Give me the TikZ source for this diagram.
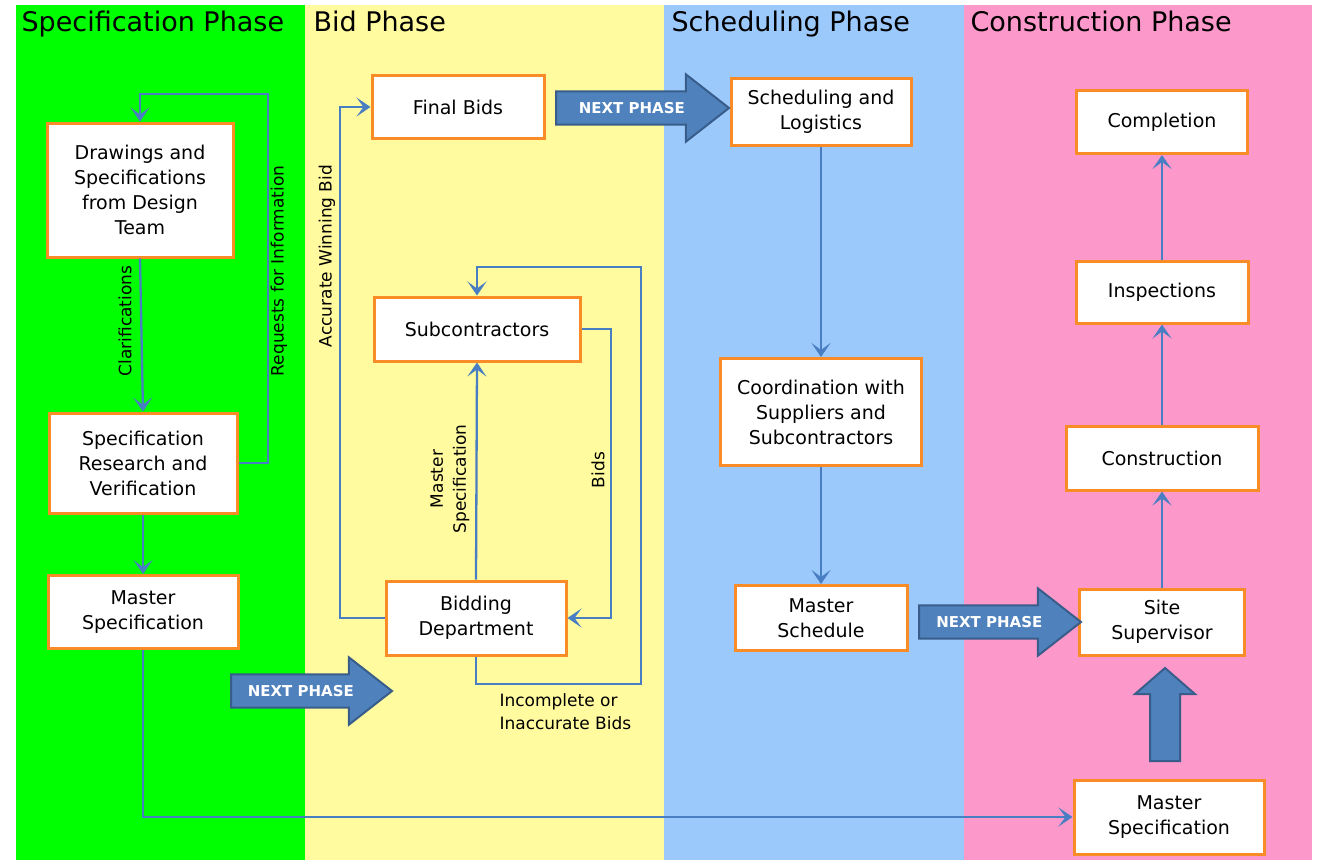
\documentclass[tikz,border=0pt]{standalone}
\usepackage{fontspec}
\setmainfont{DejaVu Sans}
\usetikzlibrary{arrows.meta,shapes.arrows}

\definecolor{specgreen}{RGB}{0,255,0}
\definecolor{bidyellow}{RGB}{255,251,158}
\definecolor{schedblue}{RGB}{156,201,252}
\definecolor{buildpink}{RGB}{253,152,203}
\definecolor{boxorange}{RGB}{250,140,40}
\definecolor{lineblue}{RGB}{74,126,194}
\definecolor{arrowblue}{RGB}{79,129,189}
\definecolor{arrowedge}{RGB}{56,93,138}

\begin{document}
\begin{tikzpicture}[x=1pt,y=-1pt,
  box/.style={draw=boxorange, line width=3pt, fill=white, align=center,
    inner sep=0pt, font=\fontsize{19}{25}\selectfont},
  flow/.style={draw=lineblue, line width=2.3pt,
    -{Stealth[length=14pt,width=19pt,inset=7pt]}},
  tag/.style={font=\fontsize{17}{23}\selectfont},
  title/.style={anchor=base west, font=\fontsize{27}{32}\selectfont},
  nextphase/.style={single arrow, draw=arrowedge, fill=arrowblue,
    line width=2pt, text=white, inner xsep=0pt, inner ysep=10pt,
    font=\bfseries\fontsize{15}{18}\selectfont,
    single arrow head extend=17pt, single arrow tip angle=76}]

  % Page and phase columns
  \useasboundingbox (0,0) rectangle (1317,860);
  \fill[specgreen] (16,5) rectangle (305,860);
  \fill[bidyellow] (305,5) rectangle (664,860);
  \fill[schedblue] (664,5) rectangle (964,860);
  \fill[buildpink] (964,5) rectangle (1312,860);

  % Phase titles
  \node[title] (tspec)  at (18,31)  {Specification Phase};
  \node[title] (tbid)   at (310,31) {Bid Phase};
  \node[title] (tsched) at (668,31) {Scheduling Phase};
  \node[title] (tbuild) at (967,31) {Construction Phase};

  % Specification phase
  \node[box, minimum width=186, minimum height=134] (drawings) at (140,190)
    {Drawings and\\Specifications\\from Design\\Team};
  \node[box, minimum width=188, minimum height=100] (research) at (143,463)
    {Specification\\Research and\\Verification};
  \node[box, minimum width=190, minimum height=73] (masterA) at (143,612)
    {Master\\Specification};

  % Bid phase
  \node[box, minimum width=172, minimum height=63] (final) at (458,107) {Final Bids};
  \node[box, minimum width=206, minimum height=64] (sub) at (477,329) {Subcontractors};
  \node[box, minimum width=180, minimum height=74] (bidding) at (476,618)
    {Bidding\\Department};

  % Scheduling phase
  \node[box, minimum width=180, minimum height=67] (sched) at (821,112)
    {Scheduling and\\Logistics};
  \node[box, minimum width=201, minimum height=107] (coord) at (821,412)
    {Coordination with\\Suppliers and\\Subcontractors};
  \node[box, minimum width=172, minimum height=65] (mschedule) at (821,618)
    {Master\\Schedule};

  % Construction phase
  \node[box, minimum width=171, minimum height=63] (completion) at (1162,122) {Completion};
  \node[box, minimum width=172, minimum height=62] (inspect) at (1162,292) {Inspections};
  \node[box, minimum width=192, minimum height=64] (construct) at (1162,458) {Construction};
  \node[box, minimum width=165, minimum height=66] (site) at (1162,622)
    {Site\\Supervisor};
  \node[box, minimum width=190, minimum height=74] (masterB) at (1169,817)
    {Master\\Specification};

  % Specification flow
  \draw[flow] (drawings.south) -- (research.north);
  \draw[flow] (research.east) -| (268,94) -| (drawings.north);
  \draw[flow] (research.south) -- (masterA.north);
  \draw[flow] (masterA.south) |- (masterB.west);
  \node[tag, rotate=90] (lclar) at (125,321) {Clarifications};
  \node[tag, rotate=90] (lrfi)  at (279,271) {Requests for Information};

  % Bid flow
  \draw[flow] (bidding.west) -| (340,107) -- (final.west);
  \draw[flow] (bidding.north) -- (sub.south);
  \draw[flow] (sub.east) -| (611,618) -- (bidding.east);
  \draw[flow] (bidding.south) |- (641,684) |- (477,267) -- (sub.north);
  \node[tag, rotate=90] (lwin) at (327,256) {Accurate Winning Bid};
  \node[tag, rotate=90, align=center] (lmspec) at (450,479) {Master\\Specification};
  \node[tag, rotate=90] (lbids) at (598,470) {Bids};
  \node[tag, anchor=north west, align=left] (lredo) at (496,690)
    {Incomplete or\\Inaccurate Bids};

  % Scheduling flow
  \draw[flow] (sched.south) -- (coord.north);
  \draw[flow] (coord.south) -- (mschedule.north);

  % Construction flow
  \draw[flow] (site.north) -- (construct.south);
  \draw[flow] (construct.north) -- (inspect.south);
  \draw[flow] (inspect.north) -- (completion.south);

  % Next phase arrows
  \node[nextphase, anchor=tail, minimum height=161, minimum width=65] (nextA) at (230,691) {NEXT PHASE};
  \node[nextphase, anchor=tail, minimum height=173, minimum width=64] (nextB) at (555,108) {NEXT PHASE};
  \node[nextphase, anchor=tail, minimum height=162, minimum width=63] (nextC) at (918,622) {NEXT PHASE};
  \node[nextphase, anchor=tail, minimum height=93, minimum width=58,
    inner xsep=14pt, inner ysep=0pt, single arrow head extend=15pt,
    single arrow tip angle=98, shape border rotate=90] (nextD) at (1165,762) {};

\end{tikzpicture}
\end{document}
